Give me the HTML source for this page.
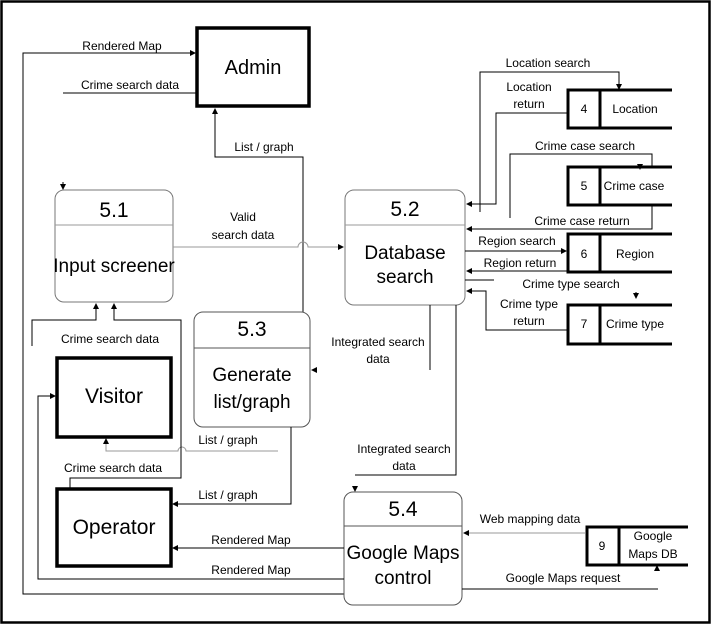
<!DOCTYPE html>
<html><head><style>
html,body{margin:0;padding:0;background:#fff;}
svg{display:block;}
text{font-family:"Liberation Sans",sans-serif;fill:#000;}
.l{font-size:12px;}
.b{font-size:19px;}
</style></head><body>
<svg width="712" height="631" viewBox="0 0 712 631" xmlns="http://www.w3.org/2000/svg">
<defs>
<marker id="a" markerWidth="6" markerHeight="6" refX="5" refY="3" orient="auto" markerUnits="userSpaceOnUse"><path d="M0,0 L6,3 L0,6z" fill="#000"/></marker>
</defs>
<rect x="1.5" y="1.5" width="708" height="621" fill="none" stroke="#000" stroke-width="2.5"/>
<g fill="none" stroke="#000" stroke-width="1">
<rect x="197" y="28" width="112" height="78" stroke-width="3.5"/>
<path d="M344,594 H23 V53 H195" marker-end="url(#a)"/>
<path d="M63,93 H196"/>
<path d="M303,312 V157 H215 V109" marker-end="url(#a)"/>
<rect x="55" y="190" width="118" height="112" rx="9" stroke="#777"/>
<path d="M55,225 H173" stroke="#999"/>
<path d="M173,247 H298 a5,5 0 0 1 10,0 H343" stroke="#999" marker-end="url(#a)"/>
<rect x="345" y="190" width="120" height="115" rx="9" stroke="#777"/>
<path d="M345,225 H465" stroke="#999"/>
<path d="M672,90 H568 V128 H672 M600,90 V128" stroke-width="3"/>
<path d="M672,167 H568 V205 H672 M600,167 V205" stroke-width="3"/>
<path d="M672,234 H568 V272 H672 M600,234 V272" stroke-width="3"/>
<path d="M672,305 H568 V344 H672 M600,305 V344" stroke-width="3"/>
<path d="M688,527 H587 V565 H688 M619,527 V565" stroke-width="3"/>
<path d="M480,212 V72 H619 V89" marker-end="url(#a)"/>
<path d="M568,113 H496 V204 H467" marker-end="url(#a)"/>
<path d="M510,218 V154 H652 V168"/>
<path d="M640,164 V169" marker-end="url(#a)"/>
<path d="M652,205 V229 H467" marker-end="url(#a)"/>
<path d="M465,251 H566" marker-end="url(#a)"/>
<path d="M568,271 H467" marker-end="url(#a)"/>
<path d="M465,280 H494"/>
<path d="M636,292 V298" marker-end="url(#a)"/>
<path d="M568,330 H486 V291 H467" marker-end="url(#a)"/>
<rect x="194" y="312" width="116" height="115" rx="9" stroke="#555"/>
<path d="M194,348 H310" stroke="#555"/>
<path d="M430,305 V370"/>
<path d="M316,370 H312" marker-end="url(#a)"/>
<path d="M456,305 V475 H355"/>
<path d="M355,486 V491" marker-end="url(#a)"/>
<rect x="57" y="358" width="114" height="79" stroke-width="3.5"/>
<rect x="57" y="489" width="114" height="77" stroke-width="3.5"/>
<path d="M278,451 H186 a4,4 0 0 0 -8,0 H106 V439" stroke="#999" marker-end="url(#a)"/>
<path d="M32,346 V320 H96 V304" marker-end="url(#a)"/>
<path d="M70,488 V478 H181 V320 H114 V304" marker-end="url(#a)"/>
<path d="M291,427 V504 H173" marker-end="url(#a)"/>
<rect x="344" y="492" width="118" height="113" rx="9" stroke="#555"/>
<path d="M344,526 H462" stroke="#555"/>
<path d="M344,548 H173" marker-end="url(#a)"/>
<path d="M344,579 H38 V396 H55" marker-end="url(#a)"/>
<path d="M585,533 H464" stroke="#999" marker-end="url(#a)"/>
<path d="M462,589 H658"/>
<path d="M657,571 V566" marker-end="url(#a)"/>
<path d="M63,182 V189" marker-end="url(#a)"/>
</g>
<g class="l" text-anchor="middle">
<text x="122" y="50">Rendered Map</text>
<text x="130" y="89">Crime search data</text>
<text x="264" y="151">List / graph</text>
<text x="243" y="221">Valid</text>
<text x="243" y="239">search data</text>
<text x="548" y="67">Location search</text>
<text x="529" y="91">Location</text>
<text x="529" y="108">return</text>
<text x="585" y="150">Crime case search</text>
<text x="582" y="225">Crime case return</text>
<text x="517" y="245">Region search</text>
<text x="520" y="267">Region return</text>
<text x="571" y="288">Crime type search</text>
<text x="529" y="308">Crime type</text>
<text x="529" y="325">return</text>
<text x="584" y="113">4</text>
<text x="635" y="113">Location</text>
<text x="584" y="190">5</text>
<text x="634" y="190">Crime case</text>
<text x="584" y="258">6</text>
<text x="635" y="258">Region</text>
<text x="584" y="328">7</text>
<text x="635" y="328">Crime type</text>
<text x="602" y="550">9</text>
<text x="653" y="540">Google</text>
<text x="653" y="558">Maps DB</text>
<text x="110" y="343">Crime search data</text>
<text x="113" y="472">Crime search data</text>
<text x="228" y="444">List / graph</text>
<text x="228" y="499">List / graph</text>
<text x="378" y="346">Integrated search</text>
<text x="378" y="363">data</text>
<text x="404" y="453">Integrated search</text>
<text x="404" y="470">data</text>
<text x="251" y="544">Rendered Map</text>
<text x="251" y="574">Rendered Map</text>
<text x="530" y="523">Web mapping data</text>
<text x="563" y="582">Google Maps request</text>
</g>
<g class="b" text-anchor="middle">
<text x="253" y="74" font-size="20">Admin</text>
<text x="114" y="217" font-size="21">5.1</text>
<text x="114" y="272">Input screener</text>
<text x="405" y="216" font-size="21">5.2</text>
<text x="405" y="259">Database</text>
<text x="405" y="283">search</text>
<text x="252" y="336" font-size="21">5.3</text>
<text x="252" y="381">Generate</text>
<text x="252" y="408">list/graph</text>
<text x="114" y="403" font-size="21">Visitor</text>
<text x="114" y="534" font-size="21">Operator</text>
<text x="403" y="516" font-size="21">5.4</text>
<text x="403" y="559">Google Maps</text>
<text x="403" y="584">control</text>
</g>
</svg>
</body></html>
